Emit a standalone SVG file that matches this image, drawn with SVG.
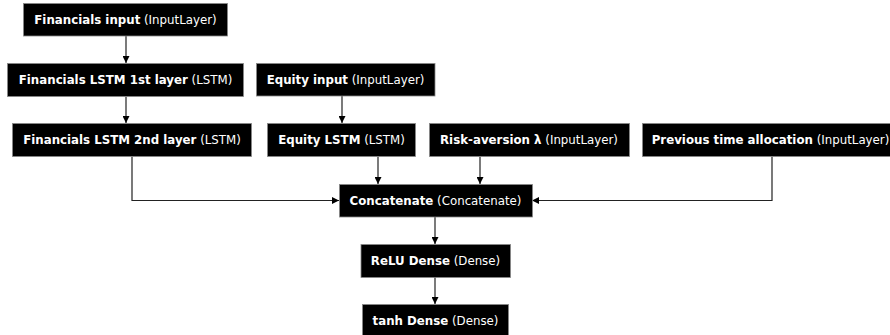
<svg xmlns="http://www.w3.org/2000/svg" width="890" height="335" viewBox="0 0 890 335">
<defs>
<marker id="ah" viewBox="0 0 10 10" refX="10" refY="5" markerWidth="7" markerHeight="7" markerUnits="userSpaceOnUse" orient="auto">
<path d="M0,0 L10,5 L0,10 Z" fill="#000"/>
</marker>
</defs>
<style>
.box{fill:#000;stroke:#888;stroke-width:0.8}
.t{font-family:"DejaVu Sans",sans-serif;font-size:11.8px;fill:#fff;text-anchor:middle}
.b{font-weight:bold}
.e{fill:none;stroke:#222;stroke-width:1.2;marker-end:url(#ah)}
</style>
<g id="connectors">
<path class="e" d="M126,36 L126,63"/>
<path class="e" d="M126,97 L126,123"/>
<path class="e" d="M342,96 L342,123"/>
<path class="e" d="M132,157 L132,200.5 L339,200.5"/>
<path class="e" d="M378,157 L378,184"/>
<path class="e" d="M480,157 L480,184"/>
<path class="e" d="M772,157 L772,200.5 L532,200.5"/>
<path class="e" d="M435,217 L435,244"/>
<path class="e" d="M435,277 L435,304"/>
</g>
<g id="financials_input">
<rect class="box" x="23.5" y="3.5" width="204" height="32.5"/>
<text class="t" x="125.5" y="23.5"><tspan class="b">Financials input</tspan> (InputLayer)</text>
</g>
<g id="financials_lstm1">
<rect class="box" x="7.5" y="63.5" width="236" height="33"/>
<text class="t" x="125.5" y="83.5"><tspan class="b">Financials LSTM 1st layer</tspan> (LSTM)</text>
</g>
<g id="financials_lstm2">
<rect class="box" x="12.5" y="123.5" width="239" height="33"/>
<text class="t" x="132" y="143.5"><tspan class="b">Financials LSTM 2nd layer</tspan> (LSTM)</text>
</g>
<g id="equity_input">
<rect class="box" x="256.5" y="63.5" width="178.5" height="32.5"/>
<text class="t" x="345.5" y="83.5"><tspan class="b">Equity input</tspan> (InputLayer)</text>
</g>
<g id="equity_lstm">
<rect class="box" x="267.5" y="123.5" width="148" height="33"/>
<text class="t" x="341.5" y="143.5"><tspan class="b">Equity LSTM</tspan> (LSTM)</text>
</g>
<g id="risk_aversion">
<rect class="box" x="429.5" y="123.5" width="200" height="33"/>
<text class="t" x="529" y="143.5"><tspan class="b">Risk-aversion λ</tspan> (InputLayer)</text>
</g>
<g id="previous_allocation">
<rect class="box" x="642.5" y="123.5" width="256" height="33"/>
<text class="t" x="770.5" y="143.5"><tspan class="b">Previous time allocation</tspan> (InputLayer)</text>
</g>
<g id="concatenate">
<rect class="box" x="339.5" y="184.5" width="193" height="32.5"/>
<text class="t" x="435.5" y="204.5"><tspan class="b">Concatenate</tspan> (Concatenate)</text>
</g>
<g id="relu_dense">
<rect class="box" x="361" y="244.5" width="149.5" height="33"/>
<text class="t" x="435.5" y="264.5"><tspan class="b">ReLU Dense</tspan> (Dense)</text>
</g>
<g id="tanh_dense">
<rect class="box" x="362.5" y="304.5" width="146" height="33"/>
<text class="t" x="435.5" y="324.5"><tspan class="b">tanh Dense</tspan> (Dense)</text>
</g>
</svg>
